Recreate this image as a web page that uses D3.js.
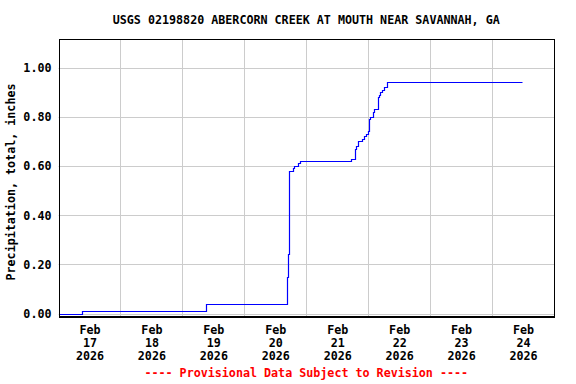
<!DOCTYPE html>
<html>
<head>
<meta charset="utf-8">
<script src="https://cdn.jsdelivr.net/npm/d3@7"></script>
<style>
  body { margin: 0; background: #fff; }
  svg text { font-family: "DejaVu Sans Mono", "Liberation Mono", monospace; font-weight: bold; font-size: 11.7px; }
</style>
</head>
<body>
<div id="chart"></div>
<script>
// gage readings (cumulative precipitation, inches)
const times = [
    "2026-02-17 00:00", "2026-02-17 09:00", "2026-02-19 09:15",
    "2026-02-20 16:30", "2026-02-20 16:45", "2026-02-20 17:15", "2026-02-20 17:30",
    "2026-02-20 18:45", "2026-02-20 19:15", "2026-02-20 20:45", "2026-02-20 21:30",
    "2026-02-21 17:15", "2026-02-21 19:00", "2026-02-21 19:15", "2026-02-21 20:00",
    "2026-02-21 21:30", "2026-02-21 22:15", "2026-02-21 23:00", "2026-02-21 23:45",
    "2026-02-22 00:15", "2026-02-22 00:45", "2026-02-22 01:45", "2026-02-22 02:15",
    "2026-02-22 03:45", "2026-02-22 04:15", "2026-02-22 04:30", "2026-02-22 05:15",
    "2026-02-22 06:00", "2026-02-22 07:15", "2026-02-24 11:45"
];
const values = [
    0.00, 0.01, 0.04,
    0.15, 0.24, 0.55, 0.58,
    0.59, 0.60, 0.61, 0.62,
    0.63, 0.67, 0.68, 0.70,
    0.71, 0.72, 0.73, 0.74,
    0.79, 0.80, 0.82, 0.83,
    0.88, 0.89, 0.90, 0.91,
    0.92, 0.94, 0.94
];
const dayTicks = ["2026-02-17", "2026-02-18", "2026-02-19", "2026-02-20",
                  "2026-02-21", "2026-02-22", "2026-02-23", "2026-02-24"];
const yTicks = [0, 0.2, 0.4, 0.6, 0.8, 1.0];

const title = "USGS 02198820 ABERCORN CREEK AT MOUTH NEAR SAVANNAH, GA";
const yTitle = "Precipitation, total, inches";
const footer = "---- Provisional Data Subject to Revision ----";

const width = 576;
const height = 384;
const margin = { top: 39, right: 22, bottom: 68, left: 58.5 };

const parseTime = d3.timeParse("%Y-%m-%d %H:%M");
const parseDay = d3.timeParse("%Y-%m-%d");
const data = times.map((t, i) => ({ date: parseTime(t), value: values[i] }));

const x = d3.scaleTime()
    .domain([parseDay("2026-02-17"), parseDay("2026-02-25")])
    .range([margin.left, width - margin.right]);

const y = d3.scaleLinear()
    .domain([-0.01, 1.116])
    .range([height - margin.bottom, margin.top]);

const svg = d3.select("#chart").append("svg")
    .attr("width", width)
    .attr("height", height);

// grid lines: midnight verticals, value horizontals
const midnights = d3.timeDay.range(parseDay("2026-02-18"), parseDay("2026-02-25"));
svg.append("g")
    .attr("stroke", "#cccccc")
    .attr("stroke-width", 1)
    .selectAll("line.v")
    .data(midnights)
    .join("line")
    .attr("x1", d => Math.round(x(d)) + 0.5)
    .attr("x2", d => Math.round(x(d)) + 0.5)
    .attr("y1", margin.top)
    .attr("y2", height - margin.bottom);

svg.append("g")
    .attr("stroke", "#cccccc")
    .attr("stroke-width", 1)
    .selectAll("line.h")
    .data(yTicks)
    .join("line")
    .attr("x1", margin.left)
    .attr("x2", width - margin.right)
    .attr("y1", d => Math.round(y(d)) + 0.5)
    .attr("y2", d => Math.round(y(d)) + 0.5);

// the series
const line = d3.line()
    .curve(d3.curveStepAfter)
    .x(d => Math.round(x(d.date)) + 0.5)
    .y(d => Math.round(y(d.value)) + 0.5);

svg.append("path")
    .datum(data)
    .attr("fill", "none")
    .attr("stroke", "#0000ff")
    .attr("stroke-width", 1.2)
    .attr("d", line);

// frame
const left = Math.round(margin.left) + 0.5;
const right = Math.round(width - margin.right) + 0.5;
svg.append("rect")
    .attr("x", left)
    .attr("y", margin.top + 0.5)
    .attr("width", right - left)
    .attr("height", height - margin.bottom - margin.top)
    .attr("fill", "none")
    .attr("stroke", "#000")
    .attr("stroke-width", 1);

svg.append("line")
    .attr("x1", left - 0.5)
    .attr("x2", right + 0.5)
    .attr("y1", height - margin.bottom + 1)
    .attr("y2", height - margin.bottom + 1)
    .attr("stroke", "#000")
    .attr("stroke-width", 2);

// y axis labels
const yAxis = svg.append("g")
    .attr("transform", `translate(${margin.left},0)`)
    .call(d3.axisLeft(y).tickValues(yTicks).tickSize(0).tickPadding(7).tickFormat(d3.format(".2f")));
yAxis.select(".domain").remove();
yAxis.selectAll("text")
    .attr("fill", "#000")
    .attr("dy", "0.34em");

// x axis labels at noon of each day
const noon = dayTicks.map(d => d3.timeHour.offset(parseDay(d), 12));
const xAxis = svg.append("g")
    .attr("transform", `translate(0,${height - margin.bottom})`)
    .call(d3.axisBottom(x).tickValues(noon).tickSize(0).tickFormat(""));
xAxis.select(".domain").remove();
xAxis.selectAll(".tick text").remove();
xAxis.selectAll(".tick").each(function(d) {
    const t = d3.select(this).append("text")
        .attr("fill", "#000")
        .attr("text-anchor", "middle");
    const parts = [d3.timeFormat("%b")(d), d3.timeFormat("%e")(d).trim(), d3.timeFormat("%Y")(d)];
    parts.forEach((p, i) => {
        t.append("tspan").attr("x", 0).attr("y", 18 + i * 13).text(p);
    });
});

// titles
svg.append("text")
    .attr("x", (margin.left + width - margin.right) / 2)
    .attr("y", 24)
    .attr("text-anchor", "middle")
    .text(title);

svg.append("text")
    .attr("transform", "translate(15,182) rotate(-90)")
    .attr("text-anchor", "middle")
    .text(yTitle);

svg.append("text")
    .attr("x", (margin.left + width - margin.right) / 2)
    .attr("y", 377)
    .attr("text-anchor", "middle")
    .attr("fill", "#ff0000")
    .text(footer);
</script>
</body>
</html>
